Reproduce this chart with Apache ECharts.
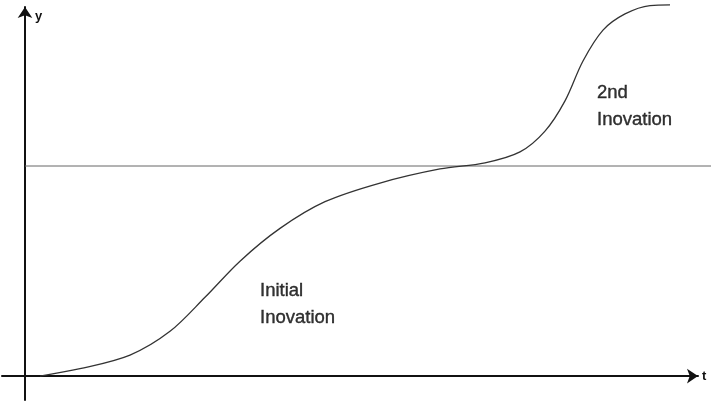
<!DOCTYPE html>
<html lang="en">
<head>
    <meta charset="UTF-8">
    <title>Innovation S-curves</title>
    <script src="https://cdn.jsdelivr.net/npm/echarts@6/dist/echarts.min.js"></script>
</head>
<body style="margin:0;background:#fff;">
<div id="box" style="width: 711px;height: 402px;"></div>
<script>
    // t in 1/100 px units from the y axis, y = 1 at the plateau line
    var curveT = [0.15, 0.55, 1.05, 1.45, 1.80, 2.15, 2.55, 3.00, 3.55, 4.15, 4.60, 4.95, 5.20, 5.40, 5.58, 5.78, 6.00, 6.25, 6.45];
    var curveY = [0, 0.035, 0.100, 0.213, 0.375, 0.547, 0.703, 0.830, 0.919, 0.986, 1.015, 1.067, 1.166, 1.310, 1.500, 1.647, 1.724, 1.764, 1.767];
    var plateauT = [0, 6.86];
    var plateauY = [1, 1];
    var labelNames = ['Initial\nInovation', '2nd\nInovation'];
    var labelT = [2.35, 5.72];
    var labelY = [0.34, 1.283];

    function pairs(xs, ys) {
        var out = [];
        for (var i = 0; i < xs.length; i++) out.push([xs[i], ys[i]]);
        return out;
    }

    var hidden = {show: false};
    var chart = echarts.init(document.getElementById('box'));
    var option = {
        animation: false,
        grid: [
            {left: 2, right: 13, top: 7, bottom: 2},
            {left: 2, right: 0, top: 7, bottom: 2}
        ],
        xAxis: [{
            type: 'value', min: -0.23, max: 6.73, gridIndex: 0,
            name: 't', nameLocation: 'end', nameGap: 4,
            nameTextStyle: {color: '#111', fontSize: 13, fontWeight: 'bold', fontFamily: 'Liberation Sans'},
            axisLine: {onZero: true, symbol: ['none', 'arrow'], symbolSize: [11, 11],
                lineStyle: {color: '#111', width: 2}},
            axisTick: hidden, axisLabel: hidden, splitLine: hidden
        }, {
            type: 'value', min: -0.23, max: 6.86, gridIndex: 1, show: false
        }],
        yAxis: [{
            type: 'value', min: -0.114, max: 1.757, gridIndex: 0,
            name: 'y', nameLocation: 'end', nameGap: -9,
            nameTextStyle: {color: '#111', fontSize: 13, fontWeight: 'bold', fontFamily: 'Liberation Sans',
                align: 'left', verticalAlign: 'middle', padding: [0, 0, 0, 10]},
            axisLine: {onZero: true, symbol: ['none', 'arrow'], symbolSize: [11, 11],
                lineStyle: {color: '#111', width: 2}},
            axisTick: hidden, axisLabel: hidden, splitLine: hidden
        }, {
            type: 'value', min: -0.114, max: 1.757, gridIndex: 1, show: false
        }],
        series: [{
            type: 'line',
            xAxisIndex: 1, yAxisIndex: 1,
            data: pairs(plateauT, plateauY),
            symbol: 'none', silent: true,
            lineStyle: {color: '#666', width: 1}
        }, {
            type: 'line',
            data: pairs(curveT, curveY),
            clip: false, smooth: 0.33, symbol: 'none', silent: true,
            lineStyle: {color: '#333', width: 1.3}
        }, {
            type: 'scatter',
            symbolSize: 0, silent: true,
            data: labelNames.map(function (n, i) { return {name: n, value: [labelT[i], labelY[i]]}; }),
            label: {
                show: true, position: 'inside', align: 'left', verticalAlign: 'middle',
                formatter: '{b}', color: '#000', fontSize: 18.5, lineHeight: 27,
                fontFamily: 'Liberation Sans', textBorderColor: '#000', textBorderWidth: 0.4
            }
        }]
    };
    chart.setOption(option);
</script>
</body>
</html>
